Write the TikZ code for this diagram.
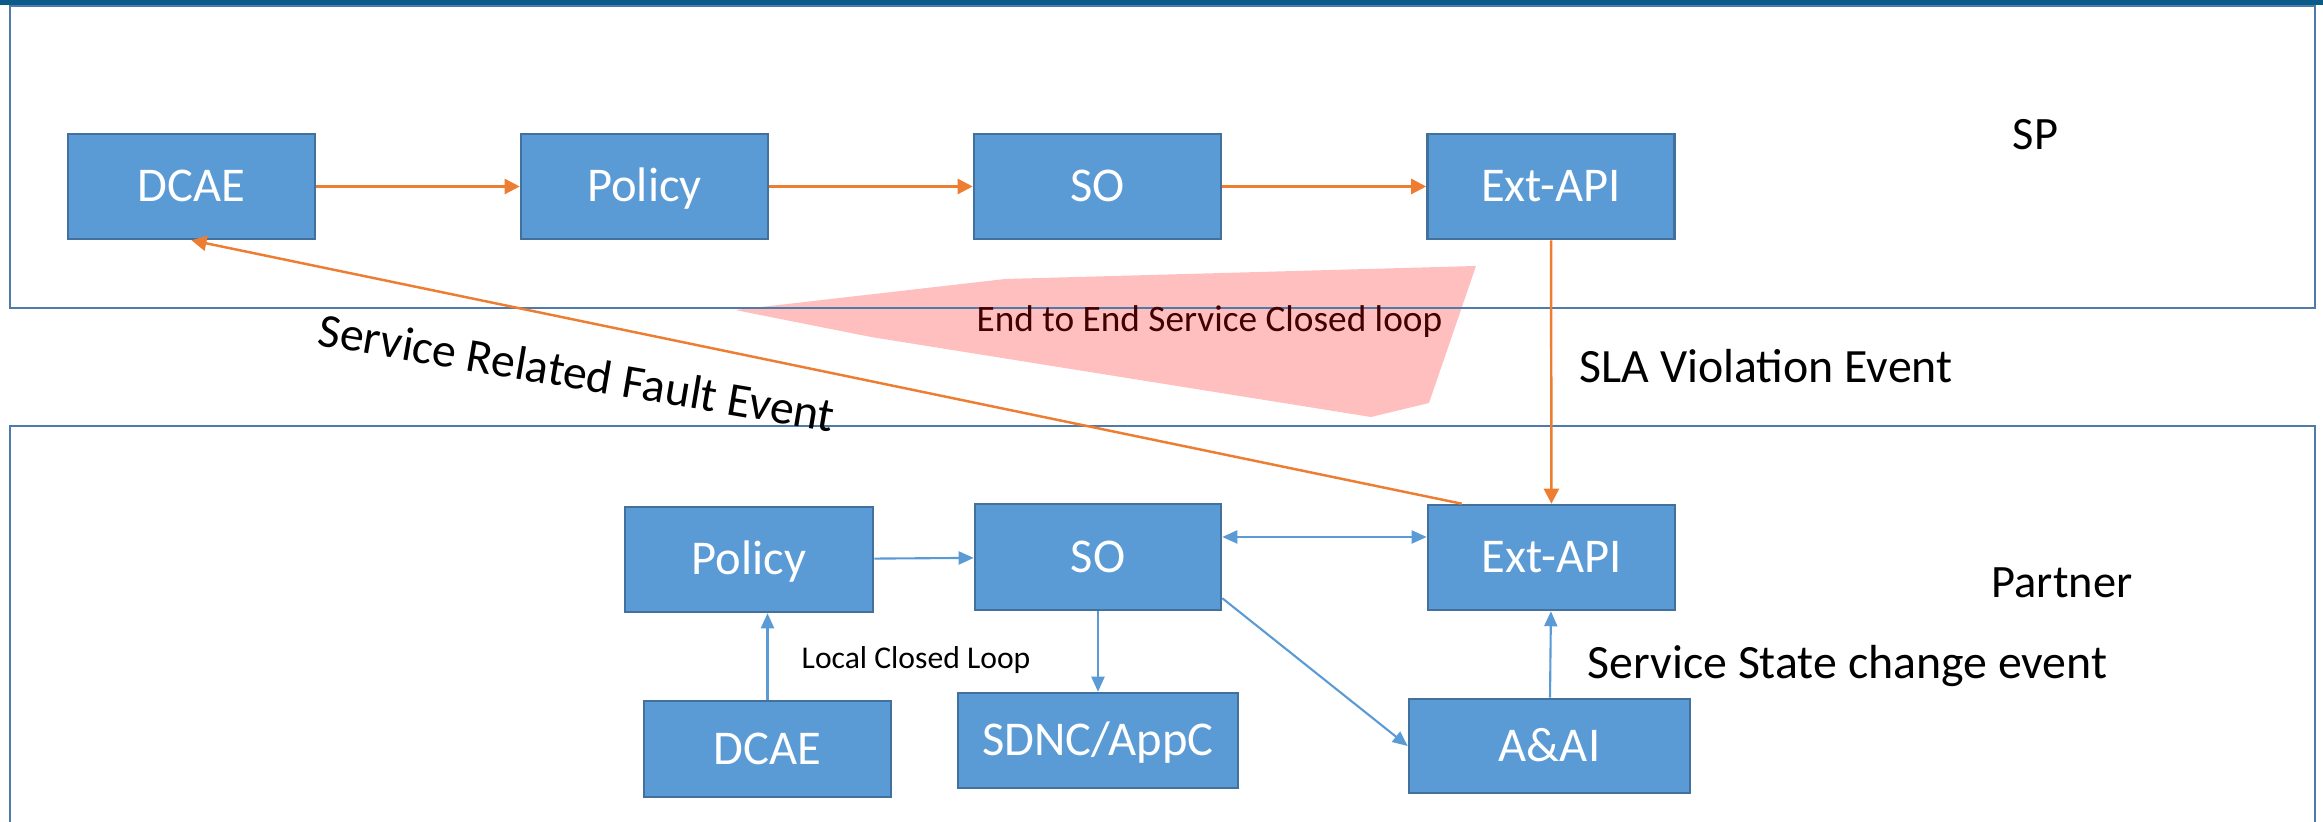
\documentclass[tikz,border=0pt]{standalone}
\usepackage{fontspec}
\setmainfont{Carlito}
\usepackage{xcolor}
\usepackage{tikz}
\usetikzlibrary{positioning, arrows.meta}

\definecolor{boxfill}{HTML}{5B9BD5}
\definecolor{boxedge}{HTML}{41719C}
\definecolor{frameedge}{HTML}{4F7BAA}
\definecolor{loopcol}{HTML}{ED7D31}
\definecolor{shadepink}{HTML}{FFBFBF}
\definecolor{topbar}{HTML}{0B5B8A}
\definecolor{loopnote}{HTML}{420000}

\begin{document}
\begin{tikzpicture}[x=0.01cm, y=-0.01cm,
  block/.style={rectangle, draw=boxedge, line width=0.7pt, fill=boxfill, text=white, inner sep=0pt, text height=0.88em, text depth=0pt, font=\fontsize{13.8}{16}\selectfont},
  sparrow/.style={draw=loopcol, line width=0.7pt, -{Triangle[length=0.15cm, width=0.15cm]}},
  ptarrow/.style={draw=boxfill, line width=0.6pt, -{Triangle[length=0.15cm, width=0.13cm]}},
  biglabel/.style={anchor=base west, inner sep=0pt, font=\fontsize{13.6}{16}\selectfont}]
\useasboundingbox (0,0) rectangle (2323,822);
\fill[white] (0,0) rectangle (2323,822);
\fill[shadepink] (735,310) -- (1005,279) -- (1476,266) -- (1429,403) -- (1371,417) -- (871,337) -- cycle;
\fill[topbar] (0,0) rectangle (2323,5);
\draw[frameedge, line width=0.6pt] (10,6) rectangle (2315,308);
\draw[frameedge, line width=0.6pt] (10,822) -- (10,426) -- (2315,426) -- (2315,822);
% SP side
\node[block, minimum width=2.47cm, minimum height=1.05cm] (spdcae) at (191.5,186.5) {DCAE};
\node[block, minimum width=2.47cm, minimum height=1.05cm] (sppolicy) at (644.5,186.5) {Policy};
\node[block, minimum width=2.47cm, minimum height=1.05cm] (spso) at (1097.5,186.5) {SO};
\node[block, minimum width=2.47cm, minimum height=1.05cm] (spext) at (1551,186.5) {Ext-API};
% partner side
\node[block, minimum width=2.48cm, minimum height=1.05cm] (ptpolicy) at (749,559.5) {Policy};
\node[block, minimum width=2.46cm, minimum height=1.06cm] (ptso) at (1098,557) {SO};
\node[block, minimum width=2.47cm, minimum height=1.05cm] (ptext) at (1551.5,557.5) {Ext-API};
\node[block, minimum width=2.47cm, minimum height=0.96cm] (ptdcae) at (767.5,749) {DCAE};
\node[block, minimum width=2.80cm, minimum height=0.95cm] (ptsdnc) at (1098,740.5) {SDNC/AppC};
\node[block, minimum width=2.81cm, minimum height=0.94cm] (ptaai) at (1549.5,746) {A\&AI};
% labels
\node[biglabel, font=\fontsize{13.2}{15}\selectfont] (splabel) at (2012,150) {SP};
\node[biglabel, font=\fontsize{13.2}{15}\selectfont] (ptlabel) at (1991,598) {Partner};
\node[biglabel] (slalabel) at (1579,383) {SLA Violation Event};
\node[biglabel] (statelabel) at (1587,679) {Service State change event};
\node[biglabel, rotate=-9.6] (faultlabel) at (316,345) {Service Related Fault Event};
\node[biglabel, font=\fontsize{9}{11}\selectfont] (locallabel) at (801,669) {Local Closed Loop};
\node[biglabel, text=loopnote, font=\fontsize{10.6}{12}\selectfont] (e2elabel) at (976,332) {End to End Service Closed loop};
% connectors
\draw[sparrow] (spdcae) -- (sppolicy);
\draw[sparrow] (sppolicy) -- (spso);
\draw[sparrow] (spso) -- (spext);
\draw[sparrow] (spext) -- (ptext);
\draw[sparrow] ([xshift=0.35cm]ptext.north west) -- (spdcae.south);
\draw[ptarrow] (ptdcae.north) -- (ptdcae.north |- ptpolicy.south);
\draw[ptarrow] (ptpolicy) -- (ptso);
\draw[ptarrow, {Triangle[length=0.15cm, width=0.13cm]}-{Triangle[length=0.15cm, width=0.13cm]}] ([yshift=0.2cm]ptso.east) -- ([yshift=0.2cm]ptso.east -| ptext.west);
\draw[ptarrow] (ptso) -- (ptsdnc);
\draw[ptarrow] ([yshift=0.13cm]ptso.south east) -- (ptaai.west);
\draw[ptarrow] (ptaai) -- (ptext);
\end{tikzpicture}
\end{document}
